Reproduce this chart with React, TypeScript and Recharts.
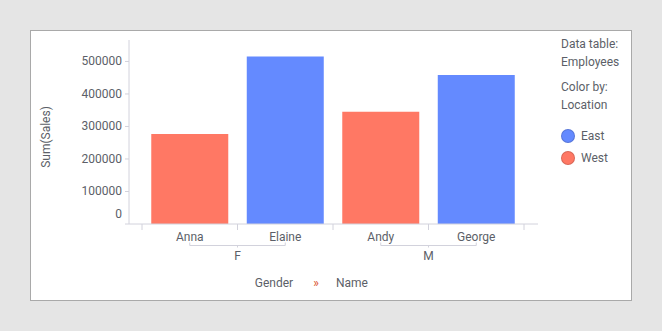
import React from 'react';
import { BarChart, Bar, XAxis, YAxis, Cell } from 'recharts';

const names = ['Anna', 'Elaine', 'Andy', 'George'];
const genders = ['F', 'F', 'M', 'M'];
const locations = ['West', 'East', 'West', 'East'];
const sales = [277000, 515000, 345000, 458000];
const yTicks = [0, 100000, 200000, 300000, 400000, 500000];
const legendItems = ['East', 'West'];

const COLORS: Record<string, string> = {
  East: '#648AFF',
  West: '#FF7864',
};

const TEXT = '#5c5f68';
const AXIS = '#d2d2dc';
const FONT = 'Roboto, "Noto Sans", sans-serif';

const WIDTH = 662;
const HEIGHT = 331;
const PLOT_LEFT = 129;
const PLOT_RIGHT = 538;
const PLOT_TOP = 40;
const PLOT_BOTTOM = 224;
const PAD_LEFT = 13;
const PAD_RIGHT = 14;
const BAND = (PLOT_RIGHT - PLOT_LEFT - PAD_LEFT - PAD_RIGHT) / names.length;

const data = names.map((name, i) => ({
  name,
  gender: genders[i],
  location: locations[i],
  sales: sales[i],
}));

function CategoryTick(props: any) {
  const { x, y, index } = props;
  const half = BAND / 2;
  const gender = genders[index];
  const first = index === 0 || genders[index - 1] !== gender;
  let count = 0;
  for (let j = index; j < genders.length && genders[j] === gender; j++) count++;
  const last = index === names.length - 1;
  const bx2 = x + (count - 1) * BAND;
  const mid = (x + bx2) / 2;

  return (
    <g>
      <line x1={x - half} x2={x - half} y1={y} y2={y + 6} stroke={AXIS} />
      {last && <line x1={x + half} x2={x + half} y1={y} y2={y + 6} stroke={AXIS} />}
      <text
        x={x}
        y={y + 13}
        textAnchor="middle"
        dominantBaseline="central"
        fill={TEXT}
        fontSize={12}
        fontFamily={FONT}
      >
        {names[index]}
      </text>
      {first && (
        <g>
          <path
            d={`M${x},${y + 18.5} L${x},${y + 21.5} L${bx2},${y + 21.5} L${bx2},${y + 18.5}`}
            fill="none"
            stroke={AXIS}
          />
          <line x1={mid} x2={mid} y1={y + 21.5} y2={y + 23.5} stroke={AXIS} />
          <text
            x={mid}
            y={y + 32}
            textAnchor="middle"
            dominantBaseline="central"
            fill={TEXT}
            fontSize={12}
            fontFamily={FONT}
          >
            {gender}
          </text>
        </g>
      )}
    </g>
  );
}

function ValueTick(props: any) {
  const { x, y, payload } = props;
  // the zero label sits above the baseline so it clears the category axis
  const dy = payload.value === 0 ? -10 : 0;
  return (
    <text
      x={x}
      y={y + dy}
      textAnchor="end"
      dominantBaseline="central"
      fill={TEXT}
      fontSize={12}
      fontFamily={FONT}
    >
      {payload.value}
    </text>
  );
}

export default function App() {
  return (
    <div
      style={{
        position: 'fixed',
        left: 0,
        top: 0,
        width: WIDTH,
        height: HEIGHT,
        background: '#e5e5e5',
        fontFamily: FONT,
      }}
    >
      <div
        style={{
          position: 'absolute',
          left: 30,
          top: 30,
          width: 600,
          height: 269,
          background: '#fff',
          border: '1px solid #a9a9a9',
        }}
      />
      <div style={{ position: 'absolute', left: 0, top: 0 }}>
        <BarChart
          width={WIDTH}
          height={HEIGHT}
          data={data}
          margin={{
            top: PLOT_TOP,
            right: WIDTH - PLOT_RIGHT,
            bottom: 0,
            left: 0,
          }}
          barCategoryGap="9.7%"
        >
          <XAxis
            dataKey="name"
            type="category"
            padding={{ left: PAD_LEFT, right: PAD_RIGHT }}
            axisLine={{ stroke: AXIS }}
            tickLine={false}
            tickSize={0}
            tickMargin={0}
            height={HEIGHT - PLOT_BOTTOM}
            interval={0}
            tick={<CategoryTick />}
          />
          <YAxis
            type="number"
            domain={[0, 566000]}
            ticks={yTicks}
            interval={0}
            width={PLOT_LEFT}
            axisLine={{ stroke: AXIS }}
            tickLine={{ stroke: AXIS }}
            tickSize={4}
            tickMargin={3}
            allowDataOverflow
            tick={<ValueTick />}
            label={{
              content: () => (
                <text
                  x={46}
                  y={137}
                  transform="rotate(-90 46 137)"
                  textAnchor="middle"
                  dominantBaseline="central"
                  fill={TEXT}
                  fontSize={12}
                  fontFamily={FONT}
                >
                  Sum(Sales)
                </text>
              ),
            }}
          />
          <Bar dataKey="sales" isAnimationActive={false}>
            {data.map((d) => (
              <Cell key={d.name} fill={COLORS[d.location]} />
            ))}
          </Bar>
        </BarChart>
      </div>

      {/* axis title below the category labels */}
      <div
        style={{
          position: 'absolute',
          top: 274,
          left: 0,
          width: WIDTH,
          height: 18,
          fontSize: 12,
          color: TEXT,
          lineHeight: '18px',
        }}
      >
        <span style={{ position: 'absolute', left: 274, transform: 'translateX(-50%)' }}>Gender</span>
        <span style={{ position: 'absolute', left: 316, transform: 'translateX(-50%)', color: '#d9532f' }}>»</span>
        <span style={{ position: 'absolute', left: 352, transform: 'translateX(-50%)' }}>Name</span>
      </div>

      {/* legend panel */}
      <div style={{ position: 'absolute', left: 561, top: 35, fontSize: 12, color: TEXT, lineHeight: '18px' }}>
        <div>Data table:</div>
        <div>Employees</div>
        <div style={{ marginTop: 7 }}>Color by:</div>
        <div>Location</div>
        <div style={{ marginTop: 11 }}>
          {legendItems.map((item) => (
            <div key={item} style={{ display: 'flex', alignItems: 'center', height: 22 }}>
              <span
                style={{
                  width: 14,
                  height: 14,
                  borderRadius: '50%',
                  background: COLORS[item],
                  boxSizing: 'border-box',
                  border: '1px solid rgba(0,0,0,0.15)',
                  marginRight: 6,
                }}
              />
              <span>{item}</span>
            </div>
          ))}
        </div>
      </div>
    </div>
  );
}
